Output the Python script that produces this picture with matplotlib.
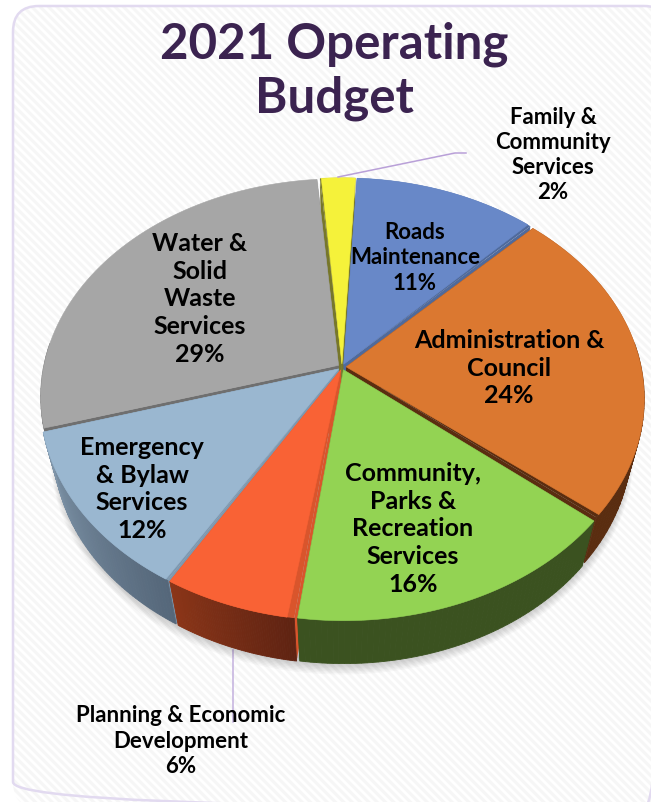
import numpy as np
import matplotlib
matplotlib.use('Agg')
import matplotlib.pyplot as plt
from matplotlib.patches import FancyBboxPatch

# slice shares as measured on the drawn pie, printed labels are below
categories = ['Family & Community Services', 'Roads Maintenance', 'Administration & Council',
              'Community, Parks & Recreation Services', 'Planning & Economic Development',
              'Emergency & Bylaw Services', 'Water & Solid Waste Services']
shares = [2.2, 11.5, 23.7, 16.1, 6.3, 12.0, 28.2]
percent_labels = ['2%', '11%', '24%', '16%', '6%', '12%', '29%']
label_lines = ['Family &\nCommunity\nServices', 'Roads\nMaintenance', 'Administration &\nCouncil',
               'Community,\nParks &\nRecreation\nServices', 'Planning & Economic\nDevelopment',
               'Emergency\n& Bylaw\nServices', 'Water &\nSolid\nWaste\nServices']
top_colors = ['#f5f23a', '#6888c8', '#db7830', '#93d353', '#f96235', '#9ab7d0', '#a6a6a6']
cut_colors = ['#77772a', '#4f6a9c', '#5a2d10', '#3b5220', '#d9552c', '#7d98b0', '#6f6f6f']
rim_left = ['#77772a', '#4f6a9c', '#5a2d10', '#3b5220', '#8a3518', '#7f95a9', '#6f6f6f']
rim_right = ['#77772a', '#4f6a9c', '#5a2d10', '#3b5220', '#5f2312', '#55677a', '#6f6f6f']
draw_order = [0, 6, 1, 2, 5, 4, 3]
# degrees of cut face that show past each end of a slice's top
cut_show_start = [0.3, 0, 0, 0, 1.2, 0.4, 0]
cut_show_end = [0, 0.7, 0.8, 0, 0, 0, 0]

start_angle = -4.9
cx, cy = 342, 367
R, tilt, persp = 295, 0.725, 0.144
depth_px, depth_persp = 50, 0.045
explode = 0.014


def project(u, v, low=False):
    w = 1 + persp * v + (depth_persp if low else 0)
    x = cx + R * u / w
    y = cy + (-R * tilt * v + (depth_px if low else 0)) / w
    return x, y


def mix(c1, c2, t):
    a = np.array(matplotlib.colors.to_rgb(c1))
    b = np.array(matplotlib.colors.to_rgb(c2))
    return a + (b - a) * t


plt.rcParams['font.family'] = ['Lato', 'DejaVu Sans']
plt.rcParams['hatch.linewidth'] = 2.2

fig = plt.figure(figsize=(6.51, 8.02), dpi=100)
ax = fig.add_axes([0, 0, 1, 1])
ax.set_xlim(0, 651)
ax.set_ylim(802, 0)
ax.axis('off')

# card with faint diagonal stripes
card = FancyBboxPatch((13, 6), 657, 802, boxstyle='round,pad=0,rounding_size=26',
                      facecolor='white', edgecolor='#f6f6f6', hatch='\\\\\\\\', linewidth=0, zorder=1)
ax.add_patch(card)
border = FancyBboxPatch((13, 6), 657, 802, boxstyle='round,pad=0,rounding_size=26',
                        facecolor='none', edgecolor='#e2daf0', linewidth=1.8, zorder=2)
ax.add_patch(border)

# soft shadow under the pie
th = np.radians(np.linspace(0, 360, 240))
for i in range(10):
    sx, sy = project(np.sin(th) * (1.0 + i * 0.0025), np.cos(th) * (1.0 + i * 0.0025), low=True)
    ax.fill(sx, sy + 1 + i * 0.8, color='black', alpha=0.028, lw=0, zorder=3)

edges = start_angle + np.cumsum([0] + shares) * 3.6
mids = (edges[:-1] + edges[1:]) / 2

z = 4
for i in draw_order:
    a0, a1 = np.radians(edges[i]), np.radians(edges[i + 1])
    mid = np.radians(mids[i])
    ox, oy = explode * np.sin(mid), explode * np.cos(mid)
    arc = np.linspace(a0, a1, 60)
    us = np.sin(arc) + ox
    vs = np.cos(arc) + oy

    # straight cut faces
    for a in (a0, a1):
        x1, y1 = project(ox, oy)
        x2, y2 = project(np.sin(a) + ox, np.cos(a) + oy)
        x3, y3 = project(np.sin(a) + ox, np.cos(a) + oy, low=True)
        x4, y4 = project(ox, oy, low=True)
        ax.fill([x1, x2, x3, x4], [y1, y2, y3, y4], color=cut_colors[i], lw=0, zorder=z)
    z += 1

    # outer rim, split up for the shading, the back part stays hidden anyway
    for j in range(len(arc) - 1):
        if np.cos(arc[j]) > 0.1 and np.cos(arc[j + 1]) > 0.1:
            continue
        xa, ya = project(us[j:j + 2], vs[j:j + 2])
        xb, yb = project(us[j:j + 2], vs[j:j + 2], low=True)
        col = mix(rim_left[i], rim_right[i], 1 - j / (len(arc) - 2))
        ax.fill([xa[0], xa[1], xb[1], xb[0]], [ya[0], ya[1], yb[1], yb[0]], color=col, lw=0.6, zorder=z)
    z += 1

    # top face, with the sliver of cut face beside it
    if cut_show_start[i] > 0 or cut_show_end[i] > 0:
        xt, yt = project(np.r_[ox, us], np.r_[oy, vs])
        ax.fill(xt, yt, color=cut_colors[i], lw=0, zorder=z)
        z += 1
    top_arc = np.linspace(a0 + np.radians(cut_show_start[i]), a1 - np.radians(cut_show_end[i]), 60)
    xt, yt = project(np.r_[ox, np.sin(top_arc) + ox], np.r_[oy, np.cos(top_arc) + oy])
    ax.fill(xt, yt, color=top_colors[i], lw=0.4, zorder=z)
    z += 1

# leader lines
ax.plot([338, 455, 466], [177, 153, 153], color='#b9a0d8', lw=1.1, zorder=50)
ax.plot([233, 233], [650, 722], color='#c3b0de', lw=1.1, zorder=2.5)

ax.text(334, 71, '2021 Operating\nBudget', ha='center', va='center', fontsize=35.5, fontweight='bold',
        color='#3b2350', linespacing=1.24, zorder=60)

label_pos = [(553, 155), (415, 258), (509, 368), (413, 529), (181, 741), (142, 489), (200, 299)]
label_size = [16, 16, 18, 18, 16, 18, 18]
for i in range(len(categories)):
    ax.text(label_pos[i][0], label_pos[i][1], label_lines[i] + '\n' + percent_labels[i], ha='center', va='center',
            fontsize=label_size[i], fontweight='bold', color='black', linespacing=1.25, zorder=60)

fig.savefig('out.png', dpi=100)
